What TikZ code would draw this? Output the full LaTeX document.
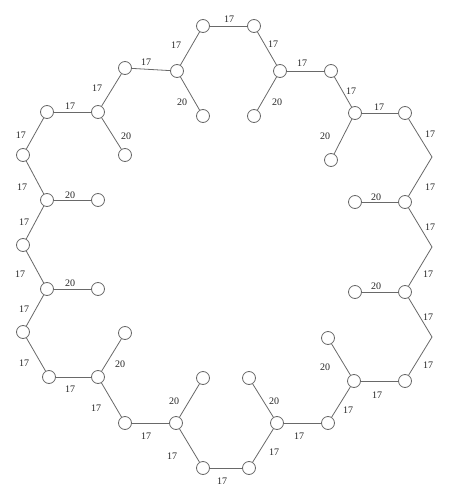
\documentclass[tikz,border=0pt]{standalone}
\usepackage{fontspec}
\setmainfont{Liberation Serif}
\begin{document}
\begin{tikzpicture}[x=1pt,y=-1pt,
  vtx/.style={circle,draw=linegray,line width=0.8pt,fill=white,minimum size=13pt,inner sep=0pt},
  edge/.style={draw=linegray,line width=0.8pt},
  lbl/.style={font=\fontsize{10}{12}\selectfont,text=black!85,inner sep=0pt}]
\definecolor{linegray}{RGB}{105,105,105}
\useasboundingbox (0,0) rectangle (450,500);
% vertices
\foreach \n/\x/\y in {t1/203/26,t2/254/26,
  a1/177/71,a2/125/68,al1/203/116,a3/98/112,al3/125/155,a4/47/112,a5/23/155,
  a6/47/200,al6/98/200,a7/23/245,a8/47/289,al8/98/289,a9/23/332,a10/49/377,
  a11/98/377,al11/125/333,a12/125/423,a13/176/423,al13/203/378,a14/203/468,
  b14/249/468,b13/277/423,bl13/249/378,b12/328/423,b11/354/381,bl11/328/338,
  b10/405/381,b8/405/292,bl8/355/292,b6/405/202,bl6/355/202,b4/405/113,
  b3/355/113,bl3/331/160,b2/331/71,b1/280/71,bl1/254/116}
  \node[vtx] (\n) at (\x,\y) {};
\coordinate (c1) at (432,157);
\coordinate (c2) at (432,247);
\coordinate (c3) at (432,337);
% edges
\begin{scope}[on background layer/.style={}]
\foreach \u/\v in {t1/t2,t1/a1,a1/a2,a1/al1,a2/a3,a3/al3,a3/a4,a4/a5,a5/a6,
  a6/al6,a6/a7,a7/a8,a8/al8,a8/a9,a9/a10,a10/a11,a11/al11,a11/a12,a12/a13,
  a13/al13,a13/a14,a14/b14,b14/b13,b13/bl13,b13/b12,b12/b11,b11/bl11,b11/b10,
  b10/c3,c3/b8,b8/bl8,b8/c2,c2/b6,b6/bl6,b6/c1,c1/b4,b4/b3,b3/bl3,b3/b2,
  b2/b1,b1/bl1,b1/t2}
  \draw[edge] (\u) -- (\v);
\end{scope}
% labels
\foreach \n/\x/\y/\t in {l1/229/19/17,l2/176/45/17,l3/146/62/17,l4/182/102/20,
  l5/97/88/17,l6/70/106/17,l7/126/136/20,l8/21/135/17,l9/22/187/17,l10/70/195/20,
  l11/24/222/17,l12/20/274/17,l13/70/283/20,l14/24/309/17,l15/24/363/17,
  l16/120/364/20,l17/70/389/17,l18/96/408/17,l19/174/401/20,l20/146/436/17,
  l21/172/456/17,l22/222/481/17,l23/274/452/17,l24/274/401/20,l25/299/436/17,
  l26/348/410/17,l27/325/367/20,l28/377/395/17,l29/428/365/17,l30/428/317/17,
  l31/376/286/20,l32/428/274/17,l33/430/227/17,l34/376/197/20,l35/430/187/17,
  l36/430/134/17,l37/379/107/17,l38/325/136/20,l39/351/91/17,l40/302/63/17,
  l41/277/102/20,l42/273/44/17}
  \node[lbl] (\n) at (\x,\y) {\t};
\end{tikzpicture}
\end{document}
